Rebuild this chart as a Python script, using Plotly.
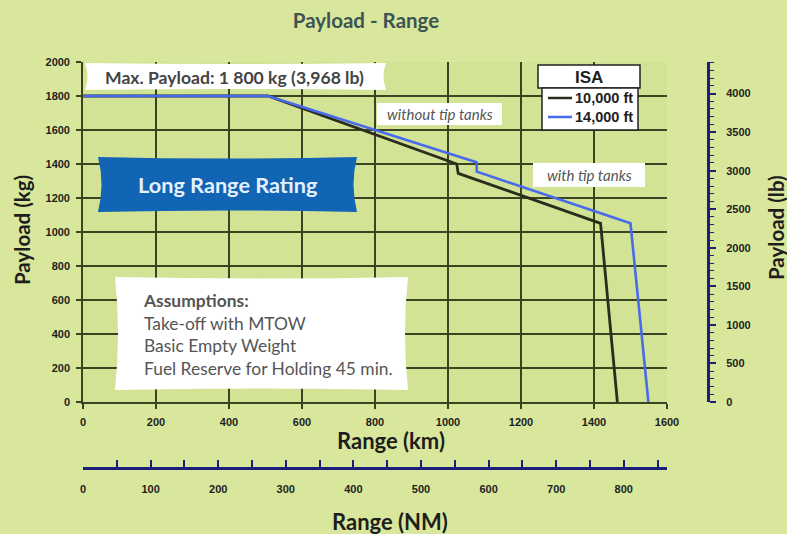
import plotly.graph_objects as go

# ---------------- data ----------------
range_km_10k = [0, 507, 1024, 1028, 1418, 1464]
payload_kg_10k = [1800, 1800, 1400, 1345, 1051, 0]
range_km_14k = [0, 507, 1078, 1079, 1500, 1549]
payload_kg_14k = [1800, 1800, 1410, 1355, 1051, 0]
series_names = ["10,000 ft", "14,000 ft"]

km_ticks = [0, 200, 400, 600, 800, 1000, 1200, 1400, 1600]
kg_ticks = [0, 200, 400, 600, 800, 1000, 1200, 1400, 1600, 1800, 2000]
nm_ticks = [0, 100, 200, 300, 400, 500, 600, 700, 800]
lb_ticks = [0, 500, 1000, 1500, 2000, 2500, 3000, 3500, 4000]

KM_PER_NM = 1.852
LB_PER_KG = 2.20462

# ---------------- layout geometry (pixels) ----------------
W, H = 787, 534
L, R, T, B = 83, 708, 62, 468     # paper box in pixels
PLOT_R, PLOT_B = 667, 402          # main plot area right / bottom


def px(x):
    return (x - L) / (R - L)


def py(y):
    return (B - y) / (B - T)


def P(x, y):
    return f"{px(x):.5f},{py(y):.5f}"


def banner(x0, y0, x1, y1, e=6, d=2):
    xm, ym = (x0 + x1) / 2, (y0 + y1) / 2
    return (f"M {P(x0, y0)} Q {P(xm, y0 + d)} {P(x1, y0)} "
            f"Q {P(x1 - e, ym)} {P(x1, y1)} "
            f"Q {P(xm, y1 - d)} {P(x0, y1)} "
            f"Q {P(x0 + e, ym)} {P(x0, y0)} Z")


BG = "#d8e79c"
PLOT_BG = "#d3e395"
GRID = "#3a4420"
NAVY = "#1c1f7a"
BLACK_LINE = "#2a2c1e"
BLUE_LINE = "#486aec"
TXT = "#1e1e1e"
LINE_COLORS = [BLACK_LINE, BLUE_LINE]
TICKFONT = dict(family="Liberation Sans", size=11, color=TXT, weight="bold")

fig = go.Figure()

fig.add_trace(go.Scatter(x=range_km_10k, y=payload_kg_10k, mode="lines",
                         name=series_names[0], showlegend=False,
                         line=dict(color=BLACK_LINE, width=2.8)))
fig.add_trace(go.Scatter(x=range_km_14k, y=payload_kg_14k, mode="lines",
                         name=series_names[1], showlegend=False,
                         line=dict(color=BLUE_LINE, width=2.6)))
# invisible trace bound to the secondary (NM / lb) axes
fig.add_trace(go.Scatter(x=[v / KM_PER_NM for v in range_km_10k],
                         y=[v * LB_PER_KG for v in payload_kg_10k],
                         xaxis="x2", yaxis="y2", mode="lines",
                         line=dict(width=0, color="rgba(0,0,0,0)"),
                         showlegend=False, hoverinfo="skip"))

xdom = [0, px(PLOT_R)]
ydom = [py(PLOT_B), 1]

fig.update_layout(
    width=W, height=H,
    margin=dict(l=L, r=W - R, t=T, b=H - B, pad=0),
    paper_bgcolor=BG, plot_bgcolor=PLOT_BG,
    title=dict(text="<b>Payload - Range</b>", x=366 / W, xanchor="center",
               y=1 - 21 / H, yanchor="middle",
               font=dict(family="Lato", size=20.5, color="#3d5454")),
    xaxis=dict(domain=xdom, range=[0, 1600], anchor="y",
               tickvals=km_ticks, ticks="outside", ticklen=5, tickwidth=1.5,
               tickcolor=GRID, tickfont=TICKFONT, ticklabelstandoff=4,
               showgrid=True, gridcolor=GRID, gridwidth=1.6,
               showline=True, linecolor=GRID, linewidth=1.6,
               zeroline=False, fixedrange=True),
    yaxis=dict(domain=ydom, range=[0, 2000], anchor="x",
               tickvals=kg_ticks, ticks="outside", ticklen=5, tickwidth=1.5,
               tickcolor=GRID, tickfont=TICKFONT, ticklabelstandoff=4,
               showgrid=True, gridcolor=GRID, gridwidth=1.6,
               showline=True, linecolor=GRID, linewidth=1.6,
               zeroline=False, fixedrange=True),
    xaxis2=dict(overlaying="x", anchor="free", position=0, side="bottom",
                range=[0, 1600 / KM_PER_NM], tickvals=nm_ticks,
                ticks="inside", ticklen=7, tickwidth=1.5, tickcolor=NAVY,
                minor=dict(dtick=50, ticks="inside", ticklen=7,
                           tickwidth=1.5, tickcolor=NAVY),
                tickfont=TICKFONT, ticklabelstandoff=10,
                showgrid=False, zeroline=False,
                showline=True, linecolor=NAVY, linewidth=2.6, fixedrange=True),
    yaxis2=dict(overlaying="y", anchor="free", position=1, side="right",
                range=[0, 2000 * LB_PER_KG], tickvals=lb_ticks,
                ticks="outside", ticklen=6, tickwidth=1.5, tickcolor=NAVY,
                minor=dict(dtick=100, ticks="outside", ticklen=4,
                           tickwidth=1, tickcolor=NAVY),
                tickfont=TICKFONT, ticklabelstandoff=8,
                showgrid=False, zeroline=False,
                showline=True, linecolor=NAVY, linewidth=3, fixedrange=True),
    showlegend=False,
)

shapes = [
    # Max payload banner
    dict(type="path", path=banner(85, 63, 386, 90, e=5, d=2),
         fillcolor="white", line=dict(width=0)),
    # Long range rating banner
    dict(type="path", path=banner(98, 157, 357, 212, e=7, d=3),
         fillcolor="#1264b4", line=dict(width=0)),
    # Assumptions box
    dict(type="path", path=banner(115, 277, 408, 390, e=6, d=3),
         fillcolor="white", line=dict(width=0)),
    # tip tank labels
    dict(type="rect", x0=px(377), x1=px(502), y0=py(125), y1=py(103),
         fillcolor="white", line=dict(width=0)),
    dict(type="rect", x0=px(533), x1=px(645), y0=py(187), y1=py(163),
         fillcolor="white", line=dict(width=0)),
    # ISA header box
    dict(type="rect", x0=px(538), x1=px(640), y0=py(88), y1=py(65),
         fillcolor="white", line=dict(width=1.5, color="#222")),
    # legend box
    dict(type="rect", x0=px(542), x1=px(638), y0=py(130), y1=py(88),
         fillcolor="white", line=dict(width=1.5, color="#222")),
]
# legend line samples
for i, c in enumerate(LINE_COLORS):
    yy = 98 + 19 * i
    shapes.append(dict(type="line", x0=px(548), x1=px(572), y0=py(yy),
                       y1=py(yy), line=dict(color=c, width=2.5)))
for s in shapes:
    s.update(xref="paper", yref="paper", layer="above")
fig.update_layout(shapes=shapes)


def ann(text, x, y, size, color=TXT, family="Lato", angle=0, xanchor="center",
        weight="normal", style="normal", align="center"):
    fig.add_annotation(text=text, x=px(x), y=py(y), xref="paper", yref="paper",
                       xanchor=xanchor, yanchor="middle", showarrow=False,
                       textangle=angle, align=align,
                       font=dict(family=family, size=size, color=color,
                                 weight=weight, style=style))


for i, name in enumerate(series_names):
    ann(name, 573, 98 + 19 * i, 14.5, family="Liberation Sans",
        weight="bold", xanchor="left")

ann("Max. Payload: 1 800 kg (3,968 lb)", 234, 77, 17.6, color="#444",
    weight="bold")
ann("Long Range Rating", 228, 185, 21.7, color="#e4f2ff", weight="bold")
ann("<b>Assumptions:</b><br>Take-off with MTOW<br>Basic Empty Weight<br>"
    "Fuel Reserve for Holding 45 min.", 141, 334, 17.4, color="#555",
    xanchor="left", align="left")
ann("without tip tanks", 440, 114, 15, color="#555", style="italic")
ann("with tip tanks", 589, 175, 15, color="#555", style="italic")
ann("ISA", 589, 77, 17, family="Liberation Sans", weight="bold")
ann("Range (km)", 391, 440, 22, weight="bold")
ann("Range (NM)", 390, 521, 22, weight="bold")
ann("Payload (kg)", 22, 230, 20.5, angle=-90, weight="bold")
ann("Payload (lb)", 776, 228, 20.5, angle=-90, weight="bold")

fig.write_html("out.html", config={"displayModeBar": False},
               post_script="document.body.style.margin='0';"
                           "document.body.style.overflow='hidden';")
